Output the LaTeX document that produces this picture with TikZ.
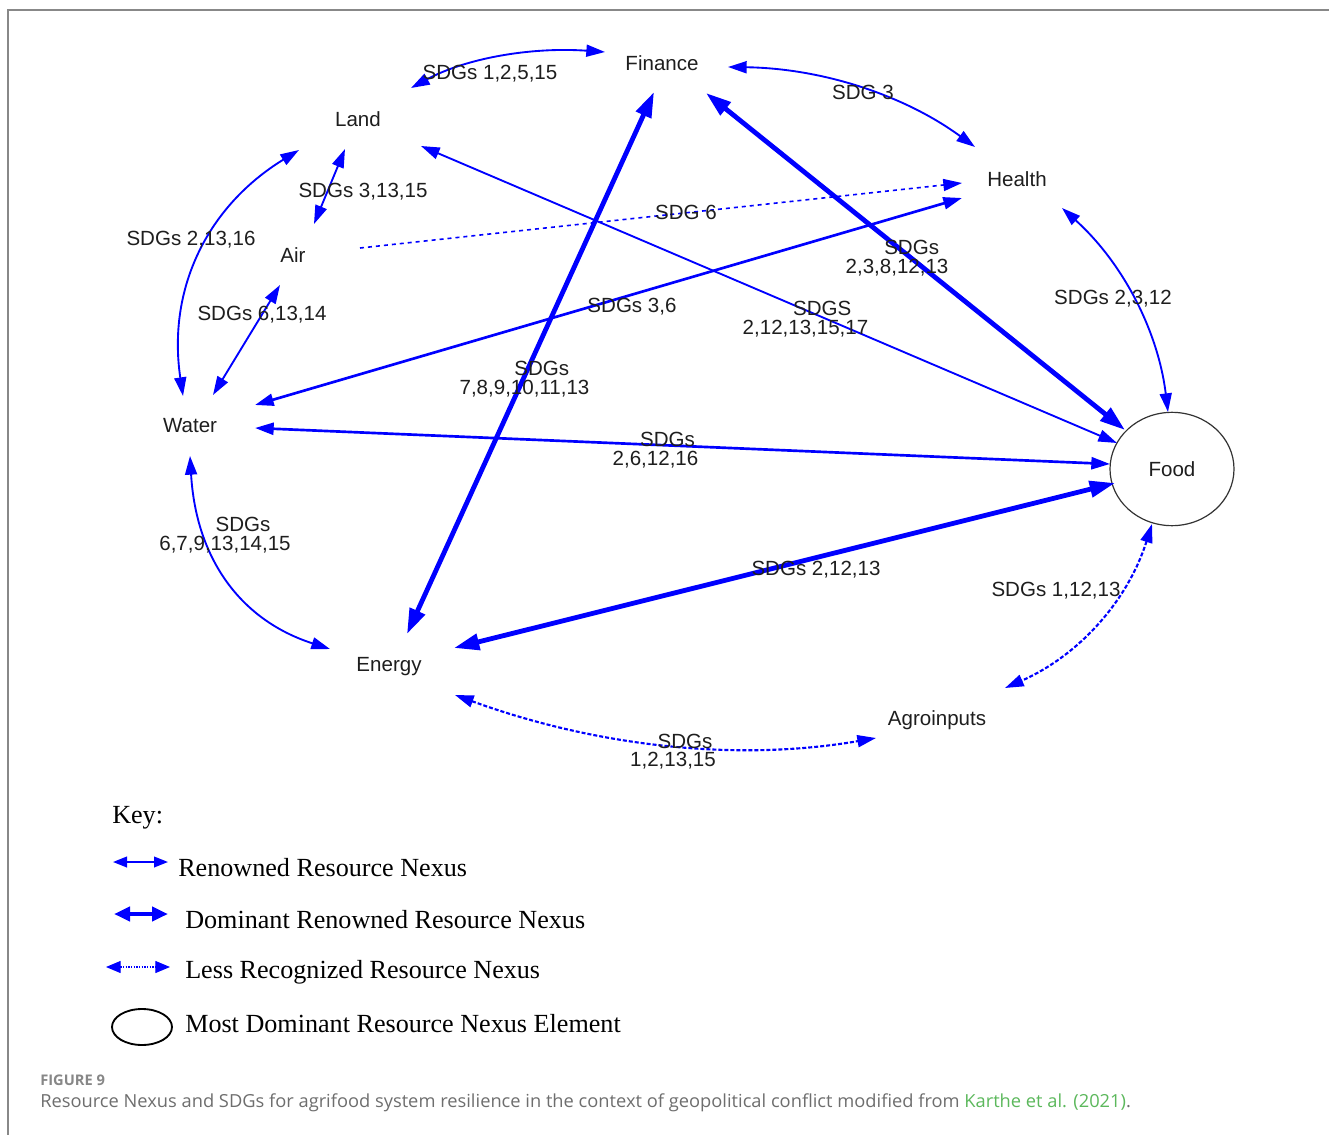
\documentclass[tikz,border=0pt]{standalone}
\usepackage{fontspec}
\setmainfont{Liberation Serif}
\newfontfamily\arialf{Liberation Sans}
\newfontfamily\capf{Open Sans}
\usetikzlibrary{arrows.meta,calc,shapes.geometric}
\definecolor{eblue}{RGB}{0,0,255}
\definecolor{capgray}{RGB}{110,110,110}
\definecolor{figgray}{RGB}{135,135,135}
\definecolor{linkgreen}{RGB}{92,184,92}
\definecolor{framegray}{RGB}{136,136,136}
\definecolor{txt}{RGB}{30,30,30}
\begin{document}
\begin{tikzpicture}[x=0.75pt,y=-0.75pt,
  vtx/.style={font=\arialf\fontsize{15.4}{16}\selectfont, text=txt, inner sep=0pt},
  lbl/.style={font=\arialf\fontsize{15.4}{14}\selectfont, text=txt, inner sep=0pt, align=center, yshift=-1.5pt},
  keytxt/.style={font=\fontsize{19.6}{22}\selectfont, text=black, inner sep=0pt, anchor=west},
  link/.style={draw=eblue, line width=1.4pt, line join=miter,
    arrows={Triangle[length=14pt,width=9pt]-Triangle[length=14pt,width=9pt]}},
  midlink/.style={link, line width=2pt},
  strong/.style={draw=eblue, line width=3.6pt, line join=miter,
    arrows={Triangle[length=19pt,width=12pt]-Triangle[length=19pt,width=12pt]}},
  weak/.style={link, line width=1.6pt, dash pattern=on 3pt off 1.5pt},
  weakone/.style={draw=eblue, line width=1.2pt, dash pattern=on 3pt off 3pt,
    arrows={-Triangle[length=14pt,width=9pt]}}
]
\useasboundingbox (0,0) rectangle (1329,1135);
\fill[white] (0,0) rectangle (1329,1135);
\draw[framegray, line width=1.5pt] (1329,10) -- (8,10) -- (8,1135);

% vertices
\node[vtx] (Fi) at (662,63) {Finance};
\node[vtx] (La) at (358,119) {Land};
\node[vtx] (He) at (1017,179) {Health};
\node[vtx] (Ai) at (293,255) {Air};
\node[vtx] (Wa) at (190,426) {Water};
\node[vtx, ellipse, draw=black!80, line width=0.9pt, minimum width=93pt, minimum height=85pt] (Fo) at (1172,469) {Food};
\node[vtx] (En) at (389,667) {Energy};
\node[vtx] (Ag) at (937,720) {Agroinputs};

% edges
\draw[link] ($(La)+(53,-31)$) .. controls (465,58.7) and (529.7,46.7) .. ($(Fi)+(-57,-11)$);
\draw[link] ($(Fi)+(66,4)$) .. controls (821.7,68.3) and (904,95) .. ($(He)+(-42,-32)$);
\draw[link] ($(La)+(-13,30)$) -- ($(Ai)+(21,-31)$);
\draw[link] ($(La)+(-59,31)$) .. controls (208,205.9) and (167,287.9) .. ($(Wa)+(-7,-30)$);
\draw[link] ($(Ai)+(-13,30)$) -- ($(Wa)+(23,-31)$);
\draw[weakone] ($(Ai)+(67,-7)$) -- ($(He)+(-55,4)$);
\draw[midlink] ($(Wa)+(65,-21)$) -- ($(He)+(-55,19)$);
\draw[strong] ($(Fi)+(-8,29)$) -- ($(En)+(18,-33)$);
\draw[strong] ($(Fi)+(44,30)$) -- ($(Fo)+(-47,-39)$);
\draw[link] ($(La)+(63,27)$) -- ($(Fo)+(-55,-26)$);
\draw[link] ($(He)+(45,29)$) .. controls (1122.7,262.7) and (1158,330.7) .. ($(Fo)+(-4,-57)$);
\draw[midlink] ($(Wa)+(65,2)$) -- ($(Fo)+(-62,-5)$);
\draw[link] ($(Wa)+(0,30)$) .. controls (196,558) and (240,620) .. ($(En)+(-59,-18)$);
\draw[strong] ($(En)+(65,-19)$) -- ($(Fo)+(-57,14)$);
\draw[weak] ($(Fo)+(-20,55)$) .. controls (1127.7,601) and (1078.7,655.6) .. ($(Ag)+(68,-32)$);
\draw[weak] ($(En)+(66,28)$) .. controls (598.7,747.3) and (739,761.7) .. ($(Ag)+(-61,18)$);

% edge labels
\node[lbl] (l1) at (490,72) {SDGs 1,2,5,15};
\node[lbl] (l2) at (863,90) {SDG 3};
\node[lbl] (l3) at (363,190) {SDGs 3,13,15};
\node[lbl] (l4) at (191,238) {SDGs 2,13,16};
\node[lbl] (l5) at (262,313) {SDGs 6,13,14};
\node[lbl] (l6) at (686,210) {SDG 6};
\node[lbl] (l7) at (632,305) {SDGs 3,6};
\node[lbl] (l8) at (524.5,377) {\hspace*{26pt}SDGs\\7,8,9,10,11,13};
\node[lbl] (l9) at (897,256) {\hspace*{22pt}SDGs\\2,3,8,12,13};
\node[lbl] (l10) at (805.5,317) {\hspace*{25pt}SDGS\\2,12,13,15,17};
\node[lbl] (l11) at (1113,297) {SDGs 2,3,12};
\node[lbl] (l12) at (655.5,448) {\hspace*{18pt}SDGs\\2,6,12,16};
\node[lbl] (l13) at (225,533) {\hspace*{27pt}SDGs\\6,7,9,13,14,15};
\node[lbl] (l14) at (816,568) {SDGs 2,12,13};
\node[lbl] (l15) at (1056,589) {SDGs 1,12,13};
\node[lbl] (l16) at (673,749.5) {\hspace*{18pt}SDGs\\1,2,13,15};

% key
\node[keytxt] (key) at (112,818) {Key:};
\coordinate (k1a) at (113,862); \coordinate (k1b) at (168,862);
\draw[draw=eblue, line width=1.4pt, arrows={Triangle[length=10.5pt,width=8pt]-Triangle[length=10.5pt,width=8pt]}] (k1a) -- (k1b);
\node[keytxt] (kt1) at (178,868) {Renowned Resource Nexus};
\coordinate (k2a) at (114,914); \coordinate (k2b) at (168,914);
\draw[draw=eblue, line width=3pt, arrows={Triangle[length=12pt,width=10.5pt]-Triangle[length=12pt,width=10.5pt]}] (k2a) -- (k2b);
\node[keytxt] (kt2) at (185,920) {Dominant Renowned Resource Nexus};
\coordinate (k3a) at (106,967); \coordinate (k3b) at (170,967);
\draw[draw=eblue, line width=0.9pt, dash pattern=on 1pt off 1pt, arrows={Triangle[length=11pt,width=9pt]-Triangle[length=11pt,width=9pt]}] (k3a) -- (k3b);
\node[keytxt] (kt3) at (185,972) {Less Recognized Resource Nexus};
\node[ellipse, draw=black, line width=1.4pt, minimum width=45pt, minimum height=27pt, inner sep=0pt] (kell) at (142,1027) {};
\node[keytxt] (kt4) at (185,1024) {Most Dominant Resource Nexus Element};

% caption
\node[anchor=west, inner sep=0pt] (figlbl) at (40,1080) {\capf\bfseries\fontsize{11}{12}\selectfont\color{figgray}FIGURE 9};
\node[anchor=west, inner sep=0pt] (cap) at (40,1103) {\resizebox{818pt}{\height}{\capf\fontsize{13.5}{15}\selectfont\color{capgray}Resource Nexus and SDGs for agrifood system resilience in the context of geopolitical conflict modified from \textcolor{linkgreen}{Karthe et al. (2021)}.}};
\end{tikzpicture}
\end{document}
